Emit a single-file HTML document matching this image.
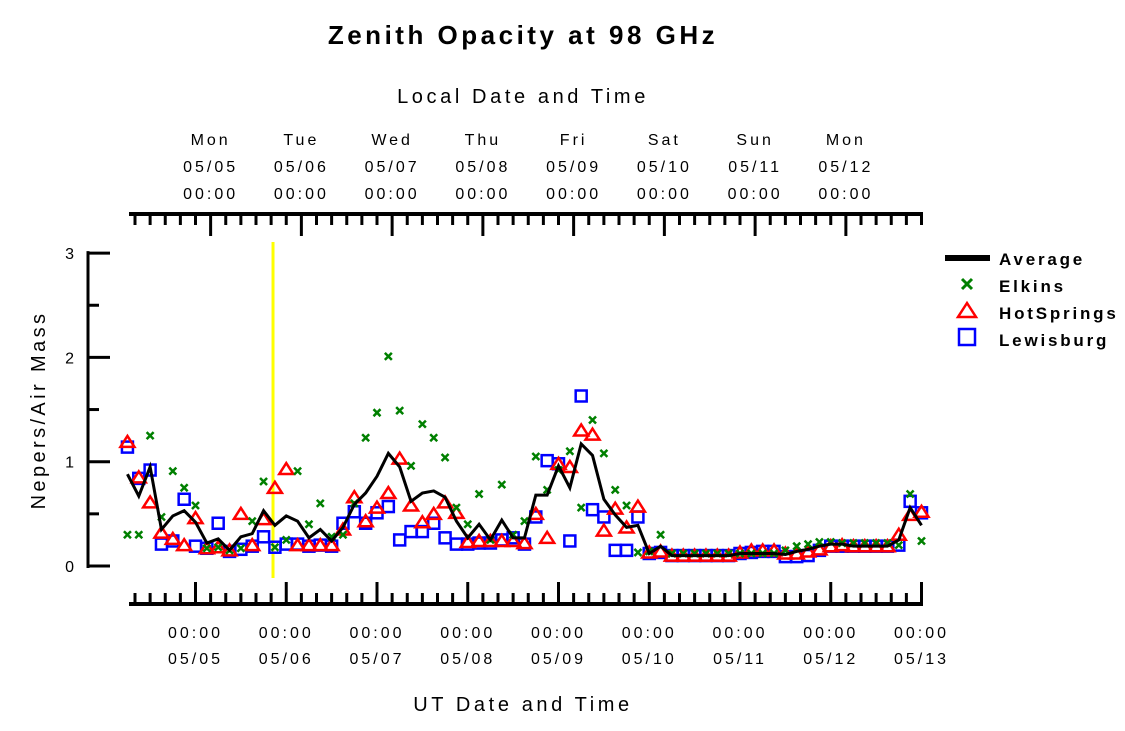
<!DOCTYPE html>
<html><head><meta charset="utf-8"><style>
html,body{margin:0;padding:0;background:#fff;width:1125px;height:731px;overflow:hidden}
svg{display:block;font-family:"Liberation Sans",sans-serif}
</style></head><body>
<svg id="chart" width="1125" height="731" viewBox="0 0 1125 731">
<text x="523" y="44" text-anchor="middle" font-size="26" font-weight="bold" letter-spacing="3.5">Zenith Opacity at 98 GHz</text>
<text x="523" y="103" text-anchor="middle" font-size="20" letter-spacing="3.6">Local Date and Time</text>
<text x="523" y="711" text-anchor="middle" font-size="20" letter-spacing="3.6">UT Date and Time</text>
<text transform="translate(45,410) rotate(-90)" text-anchor="middle" font-size="20" letter-spacing="3.4">Nepers/Air Mass</text>
<g id="axes"></g>
<g id="marks"></g>
<g>
<line x1="945" y1="258" x2="990" y2="258" stroke="#000" stroke-width="6"/>
<text x="999" y="265" font-size="17" font-weight="bold" letter-spacing="2.8">Average</text>
<path d="M962,279 l10,10 M972,279 l-10,10" stroke="#008000" stroke-width="3"/>
<text x="999" y="292" font-size="17" font-weight="bold" letter-spacing="2.8">Elkins</text>
<path d="M967,303 l9,14 h-18 z" fill="none" stroke="#f00" stroke-width="2.5"/>
<text x="999" y="319" font-size="17" font-weight="bold" letter-spacing="2.8">HotSprings</text>
<rect x="959" y="329" width="16" height="16" fill="none" stroke="#00f" stroke-width="2.5"/>
<text x="999" y="346" font-size="17" font-weight="bold" letter-spacing="2.8">Lewisburg</text>
</g>
</svg>
<script>
// hours relative to 05/05 00:00 UT; first sample at -18h, every 3h
const startHour = -18;
const stepHours = 3;
const average = [0.88,0.67,0.95,0.35,0.48,0.53,0.42,0.22,0.26,0.15,0.28,0.31,0.53,0.39,0.48,0.43,0.27,0.35,0.24,0.37,0.59,0.70,0.86,1.08,0.95,0.62,0.70,0.72,0.66,0.43,0.27,0.40,0.25,0.44,0.27,0.27,0.68,0.68,0.96,0.75,1.17,1.06,0.64,0.49,0.37,0.39,0.12,0.19,0.10,0.10,0.10,0.10,0.10,0.10,0.12,0.12,0.12,0.12,0.11,0.14,0.16,0.19,0.21,0.21,0.19,0.19,0.19,0.19,0.25,0.56,0.39];
const elkins = [0.30,0.30,1.25,0.47,0.91,0.75,0.58,0.17,0.18,0.15,0.17,0.43,0.81,0.18,0.25,0.91,0.40,0.60,0.28,0.30,0.60,1.23,1.47,2.01,1.49,0.96,1.36,1.23,1.04,0.56,0.40,0.69,0.25,0.78,0.30,0.43,1.05,0.73,0.92,1.10,0.56,1.40,1.08,0.73,0.58,0.13,0.14,0.30,0.12,0.12,0.12,0.12,0.12,0.12,0.12,0.12,0.12,0.12,0.15,0.19,0.21,0.23,0.23,0.22,0.22,0.22,0.22,0.22,0.20,0.69,0.24];
const hotsprings = [1.18,0.84,0.60,0.31,0.25,0.19,0.45,0.16,0.17,0.14,0.49,0.19,0.44,0.74,0.92,0.19,0.19,0.19,0.19,0.34,0.65,0.42,0.55,0.69,1.02,0.57,0.41,0.49,0.60,0.50,0.22,0.23,0.23,0.23,0.23,0.21,0.49,0.26,0.97,0.94,1.29,1.25,0.33,0.54,0.36,0.56,0.12,0.13,0.09,0.09,0.09,0.09,0.09,0.09,0.12,0.14,0.14,0.14,0.11,0.11,0.13,0.15,0.18,0.19,0.18,0.18,0.18,0.18,0.29,0.48,0.51];
const lewisburg = [1.14,0.84,0.92,0.21,0.24,0.64,0.19,0.17,0.41,0.14,0.16,0.19,0.28,0.18,0.21,0.21,0.19,0.20,0.19,0.41,0.52,0.41,0.51,0.57,0.25,0.33,0.33,0.41,0.27,0.21,0.21,0.22,0.22,0.25,0.27,0.21,0.47,1.01,0.98,0.24,1.63,0.54,0.47,0.15,0.15,0.47,0.12,0.13,0.10,0.10,0.10,0.10,0.10,0.10,0.12,0.13,0.14,0.14,0.09,0.09,0.10,0.15,0.19,0.19,0.19,0.19,0.19,0.19,0.20,0.62,0.51];
const yTicks = [0,1,2,3];
const utDates = ["05/05","05/06","05/07","05/08","05/09","05/10","05/11","05/12","05/13"];
const localDays = ["Mon","Tue","Wed","Thu","Fri","Sat","Sun","Mon"];
const localDates = ["05/05","05/06","05/07","05/08","05/09","05/10","05/11","05/12"];
const markerHour = 20.5;

const NS = "http://www.w3.org/2000/svg";
function X(h){ return 195.5 + h*90.75/24; }
function Y(v){ return 566 - v*104.3; }
function el(tag, attrs, parent){
  const e = document.createElementNS(NS, tag);
  for (const k in attrs) e.setAttribute(k, attrs[k]);
  parent.appendChild(e); return e;
}
const axes = document.getElementById('axes');
const marks = document.getElementById('marks');

const yl = el('line',{x1:88,y1:Y(3)-2,x2:88,y2:Y(0)+2,stroke:'#000','stroke-width':3},axes);


for (let v=0; v<=3; v+=0.5){
  const major = Number.isInteger(v);
  const t = el('line',{x1:88,y1:Y(v),x2:major?110:99,y2:Y(v),stroke:'#000','stroke-width':3},axes);
  
  
}
yTicks.forEach(v=>{
  const t = el('text',{x:74,y:Y(v)+6,'text-anchor':'end','font-size':16},axes);
  t.textContent = v;
  
  
});

const bl = el('line',{x1:129,y1:604,x2:923,y2:604,stroke:'#000','stroke-width':4},axes);


const tl = el('line',{x1:129,y1:214,x2:923,y2:214,stroke:'#000','stroke-width':4},axes);


for (let h=-16; h<=192; h+=4){
  const x = X(h);
  const bMajor = h%24===0, tMajor = (h-4)%24===0;
  const bt = el('line',{x1:x,y1:604,x2:x,y2:bMajor?582:593,stroke:'#000','stroke-width':3},axes);
  
  
  const tt = el('line',{x1:x,y1:214,x2:x,y2:tMajor?236:225,stroke:'#000','stroke-width':3},axes);
  
  
}
utDates.forEach((d,i)=>{
  const x = X(i*24);
  const a = el('text',{x:x,y:638,'text-anchor':'middle','font-size':16,'letter-spacing':3},axes);
  a.textContent='00:00';
  
  
  const b = el('text',{x:x,y:664,'text-anchor':'middle','font-size':16,'letter-spacing':3},axes);
  b.textContent=d;
  
  
});
localDays.forEach((d,i)=>{
  const x = X(i*24+4);
  const a = el('text',{x:x,y:145,'text-anchor':'middle','font-size':16,'letter-spacing':3},axes);
  a.textContent=d;
  
  
  const b = el('text',{x:x,y:172,'text-anchor':'middle','font-size':16,'letter-spacing':3},axes);
  b.textContent=localDates[i];
  
  
  const c = el('text',{x:x,y:199,'text-anchor':'middle','font-size':16,'letter-spacing':3},axes);
  c.textContent='00:00';
  
  
});

const ym = el('line',{x1:X(markerHour),y1:242,x2:X(markerHour),y2:578,stroke:'#ffff00','stroke-width':3},marks);



function hx(i){ return X(startHour + i*stepHours); }
lewisburg.forEach((v,i)=>{
  const r = el('rect',{x:hx(i)-5.5,y:Y(v)-5.5,width:11,height:11,fill:'none',stroke:'#00f','stroke-width':2.5},marks);
  
  
});
hotsprings.forEach((v,i)=>{
  const x=hx(i), y=Y(v);
  const p = el('path',{d:`M${x},${y-7} L${x+7},${y+4} L${x-7},${y+4} Z`,fill:'none',stroke:'#f00','stroke-width':2.5},marks);
  
  
});
elkins.forEach((v,i)=>{
  const x=hx(i), y=Y(v);
  const p = el('path',{d:`M${x-3.5},${y-3.5} l7,7 M${x+3.5},${y-3.5} l-7,7`,stroke:'#008000','stroke-width':2.5},marks);
  
  
});
const line = el('polyline',{points:average.map((v,i)=>hx(i)+','+Y(v)).join(' '),fill:'none',stroke:'#000','stroke-width':3,'stroke-linejoin':'miter'},marks);


</script>
</body></html>
